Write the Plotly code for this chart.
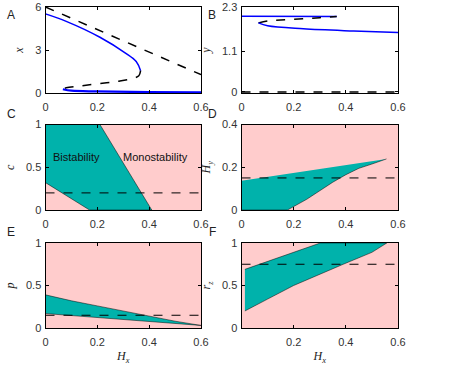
import plotly.graph_objects as go

# --- data ---
# A: x vs Hx
a_dash_hx = [0, 0.6]
a_dash_x = [6.0, 1.28]
a_up_hx = [0, 0.08, 0.21, 0.31, 0.35, 0.367]
a_up_x = [5.52, 5.0, 3.89, 2.77, 2.2, 1.56]
a_mid_hx = [0.367, 0.36, 0.338, 0.28, 0.209, 0.14, 0.08, 0.067]
a_mid_x = [1.56, 1.2, 1.02, 0.82, 0.66, 0.5, 0.36, 0.26]
a_low_hx = [0.067, 0.1, 0.2, 0.4, 0.6]
a_low_x = [0.26, 0.16, 0.11, 0.07, 0.05]

# B: y vs Hx
b_up_hx = [0, 0.2, 0.365]
b_up_y = [2.05, 2.05, 2.04]
b_mid_hx = [0.065, 0.1, 0.176, 0.3, 0.365]
b_mid_y = [1.87, 1.92, 1.96, 2.01, 2.04]
b_low_hx = [0.065, 0.1, 0.237, 0.43, 0.6]
b_low_y = [1.87, 1.79, 1.71, 1.65, 1.61]
b_zero_hx = [0, 0.6]
b_zero_y = [0, 0]

# C: bistable region in (Hx, c)
c_hx = [0, 0.21, 0.41, 0.17, 0]
c_c = [1, 1, 0, 0, 0.32]
c_ref = 0.2

# D: bistable region in (Hx, Hy)
d_hx = [0, 0, 0.176, 0.2, 0.25, 0.3, 0.35, 0.4, 0.45, 0.5, 0.556]
d_hy = [0.137, 0, 0, 0.015, 0.05, 0.09, 0.13, 0.165, 0.195, 0.215, 0.239]
d_ref = 0.15

# E: bistable region in (Hx, p)
e_hx = [0, 0.1, 0.2, 0.3, 0.4, 0.5, 0.6, 0]
e_p = [0.39, 0.32, 0.26, 0.2, 0.135, 0.08, 0.03, 0.17]
e_ref = 0.15

# F: bistable region in (Hx, rz)
f_hx = [0.013, 0.302, 0.557, 0.5, 0.39, 0.3, 0.2, 0.1, 0.013]
f_rz = [0.69, 1, 1, 0.89, 0.75, 0.63, 0.5, 0.34, 0.2]
f_ref = 0.75

x_ticks = [0, 0.2, 0.4, 0.6]
x_ticktext = ["0", "0.2", "0.4", "0.6"]

BLUE = "#0000ff"
TEAL = "#00b2ab"
PINK = "#ffcccc"
W, H = 457, 373


def dom_x(l, r):
    return [l / W, r / W]


def dom_y(t, b):
    return [1 - b / H, 1 - t / H]


fig = go.Figure()

tick_font = dict(family="Liberation Sans, Arial", size=11, color="#333")
title_font = dict(family="Liberation Serif, DejaVu Serif", size=12, color="#222")
letter_font = dict(family="Liberation Sans, Arial", size=12, color="#222")

# panel geometry (pixels): columns and rows
cols = [(45.5, 201), (241.5, 398)]
rows = [(7, 93), (124.5, 210), (243, 328)]
# panel letter centres (pixels)
letter_x = [11, 212]
letter_y = [15, 114, 232]

panels = [
    # name, col, row, yrange, yticks, yticktext, ytitle, xtitle, xticks
    ("A", 0, 0, [0, 6], [0, 3, 6], ["0", "3", "6"], "<i>x</i>", "", x_ticks),
    ("B", 1, 0, [-0.03, 2.3], [0, 1.1, 2.3], ["0", "1.1", "2.3"], "<i>y</i>", "", x_ticks),
    ("C", 0, 1, [0, 1], [0, 0.5, 1], ["0", "0.5", "1"], "<i>c</i>", "", x_ticks),
    ("D", 1, 1, [0, 0.4], [0, 0.2, 0.4], ["0", "0.2", "0.4"], "<i>H<sub>y</sub></i>", "", x_ticks),
    ("E", 0, 2, [0, 1], [0, 0.5, 1], ["0", "0.5", "1"], "<i>p</i>", "<i>H<sub>x</sub></i>", x_ticks),
    ("F", 1, 2, [0, 1], [0, 0.5, 1], ["0", "0.5", "1"], "<i>r<sub>z</sub></i>", "<i>H<sub>x</sub></i>", x_ticks[1:]),
]

layout = {}
for i, (name, c, r, yr, yt, ytt, ytitle, xtitle, xt) in enumerate(panels):
    n = "" if i == 0 else str(i + 1)
    xt_text = [x_ticktext[x_ticks.index(v)] for v in xt]
    layout["xaxis" + n] = dict(
        domain=dom_x(*cols[c]), range=[0, 0.6], anchor="y" + n, automargin=False,
        tickvals=xt, ticktext=xt_text, ticks="inside", ticklen=3, mirror="allticks",
        showline=True, linecolor="black", linewidth=1, showgrid=False, zeroline=False,
        tickfont=tick_font, tickcolor="black", ticklabelstandoff=4,
        title=dict(text=xtitle, font=title_font, standoff=4),
    )
    layout["yaxis" + n] = dict(
        domain=dom_y(*rows[r]), range=yr, anchor="x" + n, automargin=False,
        tickvals=yt, ticktext=ytt, ticks="inside", ticklen=3, mirror="allticks",
        showline=True, linecolor="black", linewidth=1, showgrid=False, zeroline=False,
        tickfont=tick_font, tickcolor="black", ticklabelstandoff=1,
        title=dict(text=ytitle, font=title_font, standoff=8),
    )
    fig.add_annotation(text=name, xref="paper", yref="paper",
                       x=letter_x[c] / W, y=1 - letter_y[r] / H,
                       xanchor="center", yanchor="middle", showarrow=False, font=letter_font)
    # pink background for the phase diagrams
    if r > 0:
        fig.add_shape(type="rect", xref="x" + n + " domain", yref="y" + n + " domain",
                      x0=0, x1=1, y0=0, y1=1, fillcolor=PINK, line_width=0, layer="below")

fig.update_layout(**layout)

dash = dict(color="black", width=1.5, dash="dash")
solid = dict(color=BLUE, width=1.5)

# A
fig.add_trace(go.Scatter(x=a_dash_hx, y=a_dash_x, mode="lines", line=dash, xaxis="x", yaxis="y"))
fig.add_trace(go.Scatter(x=a_up_hx, y=a_up_x, mode="lines", line=dict(solid, shape="spline"), xaxis="x", yaxis="y"))
fig.add_trace(go.Scatter(x=a_mid_hx, y=a_mid_x, mode="lines", line=dict(dash, shape="spline"), xaxis="x", yaxis="y"))
fig.add_trace(go.Scatter(x=a_low_hx, y=a_low_x, mode="lines", line=dict(color=BLUE, width=2.2, shape="spline"),
                         xaxis="x", yaxis="y"))

# B
fig.add_trace(go.Scatter(x=b_up_hx, y=b_up_y, mode="lines", line=solid, xaxis="x2", yaxis="y2"))
fig.add_trace(go.Scatter(x=b_mid_hx, y=b_mid_y, mode="lines", line=dict(dash, shape="spline"), xaxis="x2", yaxis="y2"))
fig.add_trace(go.Scatter(x=b_low_hx, y=b_low_y, mode="lines", line=dict(solid, shape="spline"), xaxis="x2", yaxis="y2"))
fig.add_trace(go.Scatter(x=b_zero_hx, y=b_zero_y, mode="lines", line=dash, xaxis="x2", yaxis="y2"))

# C-F: bistable regions + reference parameter value
edge = dict(color="rgba(0,0,0,0.7)", width=0.7)
ref_line = dict(color="black", width=1, dash="dash")
for (xs, ys, ref, n) in [(c_hx, c_c, c_ref, "3"), (d_hx, d_hy, d_ref, "4"),
                         (e_hx, e_p, e_ref, "5"), (f_hx, f_rz, f_ref, "6")]:
    fig.add_trace(go.Scatter(x=xs, y=ys, mode="lines", fill="toself", fillcolor=TEAL, line=edge,
                             xaxis="x" + n, yaxis="y" + n))
    fig.add_trace(go.Scatter(x=[0, 0.6], y=[ref, ref], mode="lines", line=ref_line,
                             xaxis="x" + n, yaxis="y" + n))

fig.add_annotation(text="Bistability", x=0.12, y=0.62, xref="x3", yref="y3", showarrow=False,
                   font=dict(family="Liberation Sans, Arial", size=11, color="#111"))
fig.add_annotation(text="Monostability", x=0.425, y=0.62, xref="x3", yref="y3", showarrow=False,
                   font=dict(family="Liberation Sans, Arial", size=11, color="#111"))

fig.update_layout(width=W, height=H, margin=dict(l=0, r=0, t=0, b=0), showlegend=False,
                  plot_bgcolor="white", paper_bgcolor="white")
# the page body has a default margin; drop it so the figure sits at the window origin
fig.write_html("out.html", config={"displayModeBar": False},
               post_script="document.body.style.margin = '0';")
